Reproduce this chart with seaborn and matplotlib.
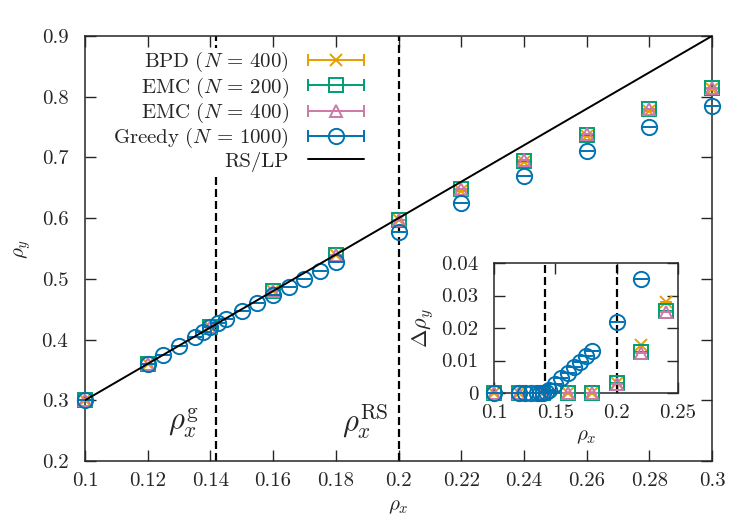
import matplotlib
matplotlib.use("Agg")
import matplotlib.pyplot as plt
import seaborn as sns
from matplotlib.lines import Line2D
from matplotlib.legend_handler import HandlerBase

# ---------------- data ----------------
rs_x = [0.1, 0.3]
rs_y = [0.3, 0.9]
rho_g = 0.1418
rho_rs = 0.2

pts_x = [0.1, 0.12, 0.14, 0.16, 0.18, 0.2, 0.22, 0.24, 0.26, 0.28, 0.3]
bpd_y = [0.300, 0.360, 0.420, 0.480, 0.540, 0.597, 0.6453, 0.6919, 0.735, 0.776, 0.812]
emc200_y = [0.300, 0.360, 0.420, 0.480, 0.540, 0.597, 0.6473, 0.6947, 0.737, 0.779, 0.814]
emc400_y = [0.300, 0.360, 0.420, 0.480, 0.540, 0.597, 0.6476, 0.6950, 0.738, 0.780, 0.815]

greedy_x = [0.1, 0.12, 0.125, 0.13, 0.135, 0.1375, 0.14, 0.1425, 0.145, 0.15, 0.155,
            0.16, 0.165, 0.17, 0.175, 0.18, 0.2, 0.22, 0.24, 0.26, 0.28, 0.3]
greedy_y = [0.300, 0.360, 0.375, 0.390, 0.405, 0.4125, 0.420, 0.4272, 0.434, 0.4472, 0.4605,
            0.4738, 0.4871, 0.5004, 0.5137, 0.527, 0.578, 0.625, 0.670, 0.710, 0.750, 0.785]

inset_x = [0.1, 0.12, 0.14, 0.16, 0.18, 0.2, 0.22, 0.24]
bpd_d = [0, 0, 0, 0, 0, 0.003, 0.0147, 0.0281]
emc200_d = [0, 0, 0, 0, 0, 0.003, 0.0127, 0.0253]
emc400_d = [0, 0, 0, 0, 0, 0.0028, 0.0124, 0.0250]

greedy_inset_x = [0.1, 0.12, 0.125, 0.13, 0.135, 0.1375, 0.14, 0.1425, 0.145, 0.15, 0.155,
                  0.16, 0.165, 0.17, 0.175, 0.18, 0.2, 0.22]
greedy_d = [0, 0, 0, 0, 0, 0, 0, 0.0003, 0.001, 0.0028, 0.0045,
            0.0062, 0.0079, 0.0096, 0.0113, 0.013, 0.022, 0.035]

labels = [r"$\mathrm{BPD}\ (N\,=\,400)$", r"$\mathrm{EMC}\ (N\,=\,200)$",
          r"$\mathrm{EMC}\ (N\,=\,400)$", r"$\mathrm{Greedy}\ (N\,=\,1000)$", "RS/LP"]

main_x_ticks = [0.1, 0.12, 0.14, 0.16, 0.18, 0.2, 0.22, 0.24, 0.26, 0.28, 0.3]
main_x_labels = ["0.1", "0.12", "0.14", "0.16", "0.18", "0.2", "0.22", "0.24", "0.26", "0.28", "0.3"]
main_y_ticks = [0.2, 0.3, 0.4, 0.5, 0.6, 0.7, 0.8, 0.9]
main_y_labels = ["0.2", "0.3", "0.4", "0.5", "0.6", "0.7", "0.8", "0.9"]
ins_x_ticks = [0.1, 0.15, 0.2, 0.25]
ins_x_labels = ["0.1", "0.15", "0.2", "0.25"]
ins_y_ticks = [0, 0.01, 0.02, 0.03, 0.04]
ins_y_labels = ["0", "0.01", "0.02", "0.03", "0.04"]

# ---------------- style ----------------
sns.set_style("ticks")
plt.rcParams["font.family"] = ["cmr10", "DejaVu Serif"]
plt.rcParams["mathtext.fontset"] = "cm"
plt.rcParams["axes.unicode_minus"] = False
plt.rcParams["axes.linewidth"] = 1.1

C_BPD = "#E69F00"
C_E200 = "#009E73"
C_E400 = "#CC79A7"
C_GR = "#0072B2"
MEW = 1.4
TFS = 15

styles = [
    dict(color=C_BPD, marker="x", ms=9),
    dict(color=C_E200, marker="s", ms=10),
    dict(color=C_E400, marker="^", ms=9),
    dict(color=C_GR, marker="o", ms=11),
]


def draw(ax, x, y, st, z):
    sns.lineplot(x=x, y=y, ax=ax, color=st["color"], marker=st["marker"],
                 markersize=st["ms"], markerfacecolor="none",
                 markeredgecolor=st["color"], markeredgewidth=MEW,
                 linestyle="", clip_on=False, zorder=z, legend=False)
    sns.lineplot(x=x, y=y, ax=ax, color=st["color"], marker="_",
                 markersize=st["ms"] * 0.95, markeredgecolor=st["color"],
                 markeredgewidth=MEW, linestyle="", clip_on=False, zorder=z,
                 legend=False)


class ErrHandler(HandlerBase):
    def create_artists(self, legend, orig, xdescent, ydescent, width, height,
                       fontsize, trans):
        y = height / 2 - ydescent
        x0, x1 = -xdescent, width - xdescent
        c = orig.get_color()
        bar = Line2D([x0, x1], [y, y], color=c, lw=MEW)
        caps = Line2D([x0, x1], [y, y], ls="", marker="|", ms=9, mew=MEW, color=c)
        mk = Line2D([(x0 + x1) / 2], [y], ls="", marker=orig.get_marker(),
                    ms=orig.get_markersize(), mfc="none", mec=c, mew=MEW)
        for a in (bar, caps, mk):
            a.set_transform(trans)
        return [bar, caps, mk]


fig = plt.figure(figsize=(7.53, 5.21), dpi=100)
W, H = 753, 521
ax = fig.add_axes([85 / W, 1 - 461 / H, (712 - 85) / W, (461 - 36) / H])

ax.axvline(rho_g, color="black", lw=1.6, ls=(0, (3.6, 1.8)), zorder=1)
ax.axvline(rho_rs, color="black", lw=1.6, ls=(0, (3.6, 1.8)), zorder=1)

draw(ax, pts_x, bpd_y, styles[0], 3)
draw(ax, pts_x, emc200_y, styles[1], 4)
draw(ax, pts_x, emc400_y, styles[2], 5)
draw(ax, greedy_x, greedy_y, styles[3], 6)
sns.lineplot(x=rs_x, y=rs_y, ax=ax, color="black", lw=1.4, zorder=7)

ax.set_xlim(0.1, 0.3)
ax.set_ylim(0.2, 0.9)
ax.set_xticks(main_x_ticks, main_x_labels)
ax.set_yticks(main_y_ticks, main_y_labels)
ax.tick_params(direction="in", top=True, right=True, length=8, width=1.0,
               labelsize=TFS)
ax.tick_params(axis="x", pad=8)
ax.tick_params(axis="y", pad=12)
ax.set_xlabel(r"$\rho_x$", fontsize=15, labelpad=6)
ax.set_ylabel(r"$\rho_y$", fontsize=15, labelpad=6)

ax.text(0.1313, 0.262, r"$\rho_x^{\mathrm{g}}$", fontsize=22, ha="center", va="center")
ax.text(0.1895, 0.265, r"$\rho_x^{\mathrm{RS}}$", fontsize=22, ha="center", va="center")

handles = []
hmap = {}
for st in styles:
    h = Line2D([], [], color=st["color"], marker=st["marker"], ms=st["ms"], mfc="none")
    handles.append(h)
    hmap[h] = ErrHandler()
handles.append(Line2D([], [], color="black", lw=1.4))

leg = ax.legend(handles, labels, handler_map=hmap, loc="upper right",
                bbox_to_anchor=(366 / W, 1 - 48 / H), bbox_transform=fig.transFigure,
                markerfirst=False, frameon=True, fancybox=False, framealpha=1,
                edgecolor="none", facecolor="white", fontsize=TFS,
                handlelength=2.7, handletextpad=0.9, labelspacing=0.06,
                borderpad=0.1, borderaxespad=0)
leg.set_zorder(20)

# ---------------- inset ----------------
ins = fig.add_axes([494 / W, 1 - 393 / H, (678 - 494) / W, (393 - 263) / H])
ins.set_zorder(30)
ins.set_facecolor("white")
ins.axvline(rho_g, color="black", lw=1.6, ls=(0, (3.6, 1.8)), zorder=1)
ins.axvline(rho_rs, color="black", lw=1.6, ls=(0, (3.6, 1.8)), zorder=1)
draw(ins, inset_x, bpd_d, styles[0], 3)
draw(ins, inset_x, emc200_d, styles[1], 4)
draw(ins, inset_x, emc400_d, styles[2], 5)
draw(ins, greedy_inset_x, greedy_d, styles[3], 6)
ins.set_xlim(0.1, 0.25)
ins.set_ylim(0, 0.04)
ins.set_xticks(ins_x_ticks, ins_x_labels)
ins.set_yticks(ins_y_ticks, ins_y_labels)
ins.tick_params(direction="in", top=True, right=True, length=8, width=1.0,
                labelsize=TFS)
ins.tick_params(axis="x", pad=8)
ins.tick_params(axis="y", pad=11)
ins.set_xlabel(r"$\rho_x$", fontsize=15, labelpad=4)
ins.set_ylabel(r"$\Delta\rho_y$", fontsize=16, labelpad=4)

fig.savefig("out.png", dpi=100)
